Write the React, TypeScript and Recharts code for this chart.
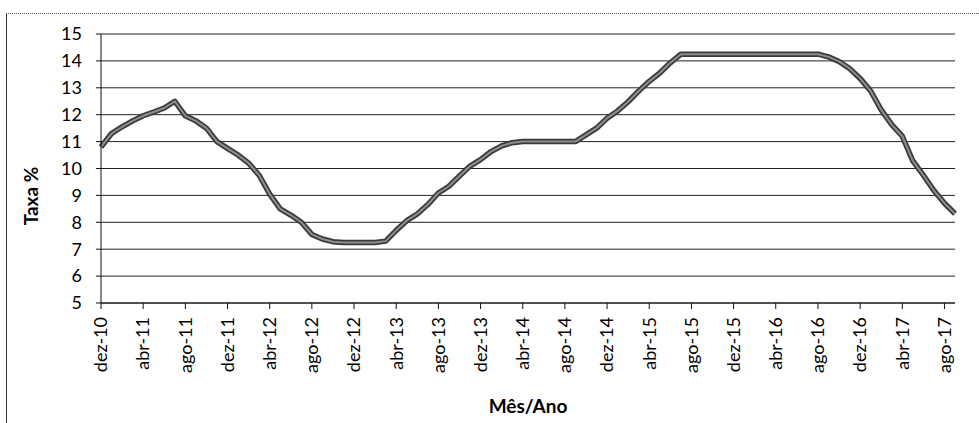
import { LineChart, Line, XAxis, YAxis, CartesianGrid } from 'recharts'

// meses dez-10 .. set-17
const months = [
  'dez-10',
  'jan-11', 'fev-11', 'mar-11', 'abr-11', 'mai-11', 'jun-11', 'jul-11', 'ago-11', 'set-11', 'out-11', 'nov-11', 'dez-11',
  'jan-12', 'fev-12', 'mar-12', 'abr-12', 'mai-12', 'jun-12', 'jul-12', 'ago-12', 'set-12', 'out-12', 'nov-12', 'dez-12',
  'jan-13', 'fev-13', 'mar-13', 'abr-13', 'mai-13', 'jun-13', 'jul-13', 'ago-13', 'set-13', 'out-13', 'nov-13', 'dez-13',
  'jan-14', 'fev-14', 'mar-14', 'abr-14', 'mai-14', 'jun-14', 'jul-14', 'ago-14', 'set-14', 'out-14', 'nov-14', 'dez-14',
  'jan-15', 'fev-15', 'mar-15', 'abr-15', 'mai-15', 'jun-15', 'jul-15', 'ago-15', 'set-15', 'out-15', 'nov-15', 'dez-15',
  'jan-16', 'fev-16', 'mar-16', 'abr-16', 'mai-16', 'jun-16', 'jul-16', 'ago-16', 'set-16', 'out-16', 'nov-16', 'dez-16',
  'jan-17', 'fev-17', 'mar-17', 'abr-17', 'mai-17', 'jun-17', 'jul-17', 'ago-17', 'set-17',
]

// taxa %
const taxa = [
  10.8,
  11.3, 11.55, 11.77, 11.96, 12.1, 12.25, 12.5, 11.96, 11.77, 11.5, 11.0, 10.75,
  10.5, 10.2, 9.75, 9.05, 8.5, 8.27, 8.0, 7.55, 7.38, 7.28, 7.25, 7.25,
  7.25, 7.25, 7.3, 7.7, 8.06, 8.31, 8.66, 9.09, 9.34, 9.72, 10.09, 10.33,
  10.63, 10.84, 10.96, 11.0, 11.0, 11.0, 11.0, 11.0, 11.0, 11.25, 11.5, 11.87,
  12.14, 12.48, 12.88, 13.24, 13.55, 13.93, 14.25, 14.25, 14.25, 14.25, 14.25, 14.25,
  14.25, 14.25, 14.25, 14.25, 14.25, 14.25, 14.25, 14.25, 14.15, 13.98, 13.72, 13.35,
  12.88, 12.18, 11.63, 11.2, 10.28, 9.75, 9.18, 8.71, 8.32,
]

const yTicks = [5, 6, 7, 8, 9, 10, 11, 12, 13, 14, 15]

const data = months.map((m, i) => ({ mes: m, taxa: taxa[i] }))

const FONT = 'Lato, "Open Sans", sans-serif'

function MonthTick({ x, y, payload }: any) {
  return (
    <text
      x={x}
      y={y}
      dy="0.35em"
      transform={`rotate(-90, ${x}, ${y})`}
      textAnchor="end"
      fontFamily={FONT}
      fontSize={18}
      fill="#000"
    >
      {payload.value}
    </text>
  )
}

function YTitle() {
  return (
    <text
      x={38}
      y={196}
      transform="rotate(-90, 38, 196)"
      textAnchor="middle"
      fontFamily={FONT}
      fontSize={19}
      fontWeight="bold"
      fill="#000"
    >
      Taxa %
    </text>
  )
}

export default function App() {
  return (
    <div style={{ position: 'absolute', left: 0, top: 0, width: 979, height: 423, background: '#fff' }}>
      <div
        style={{
          position: 'absolute', left: 6, top: 13, right: 0, bottom: 0,
          borderLeft: '1.5px solid #333', borderTop: '1px dotted #555',
        }}
      />
      <LineChart
        width={979}
        height={423}
        data={data}
        margin={{ top: 34, right: 24, left: 0, bottom: 10 }}
        style={{ position: 'absolute', left: 0, top: 0 }}
      >
        <CartesianGrid horizontal vertical={false} stroke="#222" strokeWidth={1} />
        <XAxis
          dataKey="mes"
          interval={3}
          height={110}
          tickSize={6}
          tickMargin={8}
          tick={<MonthTick />}
          axisLine={{ stroke: '#111' }}
          tickLine={{ stroke: '#111' }}
          label={{
            value: 'Mês/Ano',
            position: 'insideBottom',
            offset: 0,
            fontFamily: FONT,
            fontSize: 19,
            fontWeight: 'bold',
            fill: '#000',
          }}
        />
        <YAxis
          type="number"
          domain={[5, 15]}
          ticks={yTicks}
          interval={0}
          width={101}
          tickSize={5}
          tickMargin={14}
          tick={{ fontFamily: FONT, fontSize: 18, fill: '#000' }}
          axisLine={{ stroke: '#111' }}
          tickLine={{ stroke: '#111' }}
          label={{ content: () => <YTitle /> }}
        />
        <Line
          type="linear"
          dataKey="taxa"
          stroke="#3a3a3a"
          strokeWidth={5.5}
          strokeLinejoin="round"
          dot={false}
          activeDot={false}
          isAnimationActive={false}
        />
        <Line
          type="linear"
          dataKey="taxa"
          stroke="#8e8e8e"
          strokeWidth={2}
          strokeLinejoin="round"
          dot={false}
          activeDot={false}
          isAnimationActive={false}
        />
      </LineChart>
    </div>
  )
}
